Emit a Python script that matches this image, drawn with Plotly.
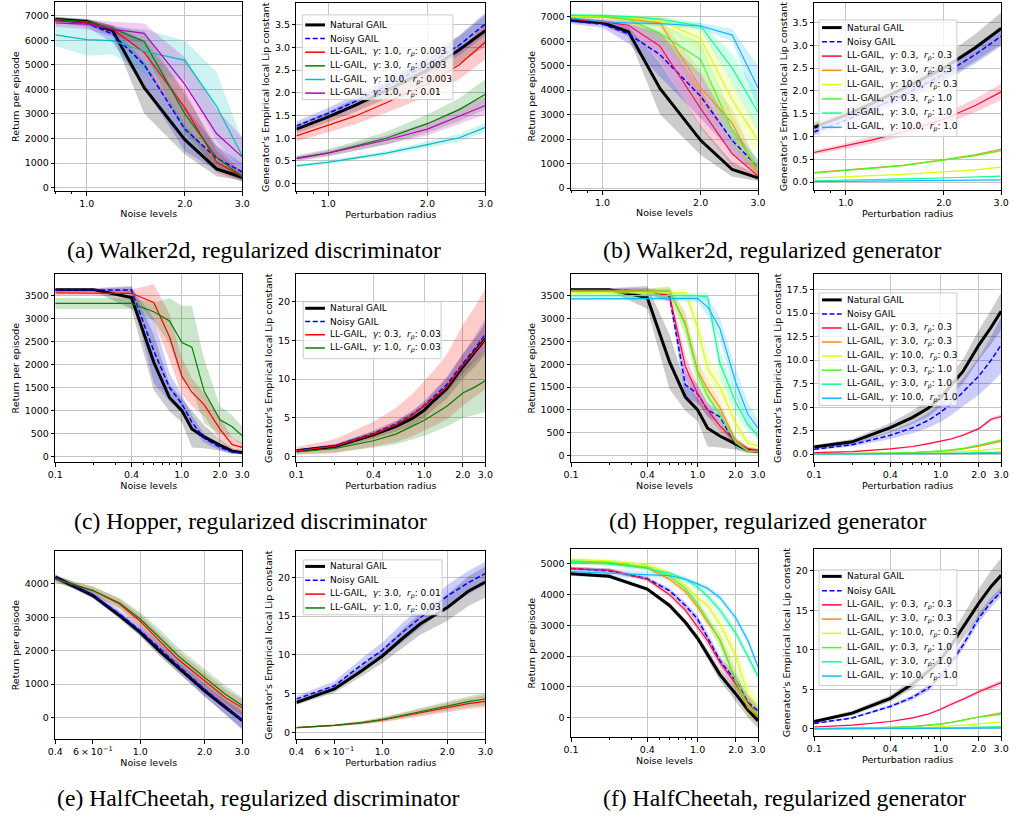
import math
import plotly.graph_objects as go

W, H = 1018, 818

# ------------------------------------------------------------------ data
WALKER_X = [0.8, 1.0, 1.2, 1.5, 2.0, 2.5, 3.0]
HOPPER_X = [0.1, 0.2, 0.4, 0.6, 0.8, 1.0, 1.2, 1.5, 2.0, 2.5, 3.0]
CHEETAH_DISC_X = [0.4, 0.5, 0.6, 0.8, 1.0, 1.25, 1.5, 2.0, 2.5, 3.0]
CHEETAH_GEN_X = [0.1, 0.2, 0.4, 0.6, 0.8, 1.0, 1.2, 1.5, 2.0, 2.5, 3.0]

LABEL_NATURAL = "Natural GAIL"
LABEL_NOISY = "Noisy GAIL"
LL_DISC_A = [("1.0", "0.003"), ("3.0", "0.003"), ("10.0", "0.003"), ("1.0", "0.01")]
LL_DISC_C = [("0.3", "0.03"), ("1.0", "0.03")]
LL_DISC_E = [("3.0", "0.01"), ("1.0", "0.03")]
LL_GEN = [("0.3", "0.3"), ("3.0", "0.3"), ("10.0", "0.3"), ("0.3", "1.0"), ("3.0", "1.0"), ("10.0", "1.0")]

# Walker2d returns
W_RET_NATURAL = [6850, 6750, 6390, 4070, 1950, 760, 420]
W_RET_NATURAL_SD = [90, 110, 200, 1050, 600, 300, 130]
A_RET_NOISY = [6820, 6700, 6250, 5000, 2380, 1200, 640]
A_RET_NOISY_SD = [120, 150, 350, 900, 900, 500, 350]
A_RET_LL1 = [6800, 6720, 6450, 5500, 3250, 1050, 430]
A_RET_LL1_SD = [100, 120, 150, 500, 700, 450, 200]
A_RET_LL2 = [6850, 6750, 6480, 5950, 3000, 1230, 450]
A_RET_LL2_SD = [80, 100, 120, 400, 800, 450, 200]
A_RET_LL3 = [6220, 6020, 5980, 5550, 5180, 3320, 1300]
A_RET_LL3_SD = [450, 650, 550, 900, 800, 1400, 650]
A_RET_LL4 = [6700, 6650, 6450, 6280, 4200, 2200, 1250]
A_RET_LL4_SD = [150, 200, 300, 400, 1100, 1000, 800]

# Walker2d Lipschitz
W_LIP_NATURAL = [1.2, 1.47, 1.72, 2.05, 2.5, 2.95, 3.37]
W_LIP_NATURAL_SD = [0.1, 0.12, 0.15, 0.18, 0.25, 0.3, 0.35]
A_LIP_NOISY = [1.27, 1.55, 1.8, 2.15, 2.62, 3.05, 3.52]
A_LIP_NOISY_SD = [0.1, 0.12, 0.14, 0.16, 0.2, 0.22, 0.25]
A_LIP_LL1 = [1.05, 1.28, 1.48, 1.78, 2.2, 2.62, 3.12]
A_LIP_LL1_SD = [0.12, 0.15, 0.18, 0.22, 0.28, 0.32, 0.38]
A_LIP_LL2 = [0.56, 0.68, 0.82, 1.0, 1.32, 1.63, 1.97]
A_LIP_LL2_SD = [0.06, 0.08, 0.1, 0.14, 0.2, 0.25, 0.33]
A_LIP_LL3 = [0.39, 0.47, 0.56, 0.67, 0.86, 1.01, 1.24]
A_LIP_LL3_SD = [0.03, 0.04, 0.04, 0.05, 0.07, 0.08, 0.1]
A_LIP_LL4 = [0.55, 0.67, 0.8, 0.96, 1.2, 1.48, 1.72]
A_LIP_LL4_SD = [0.05, 0.06, 0.08, 0.1, 0.14, 0.17, 0.2]

B_RET_NOISY = [6820, 6700, 6300, 5450, 3750, 1950, 850]
B_RET_NOISY_SD = [120, 150, 400, 900, 900, 500, 300]
B_RET_LL1 = [6900, 6800, 6650, 5800, 3250, 1400, 500]
B_RET_LL1_SD = [80, 100, 200, 600, 800, 500, 200]
B_RET_LL2 = [7000, 6980, 6900, 6750, 4100, 2650, 600]
B_RET_LL2_SD = [60, 70, 100, 200, 700, 600, 300]
B_RET_LL3 = [7000, 7000, 6950, 6850, 6100, 3600, 1950]
B_RET_LL3_SD = [60, 60, 80, 200, 500, 800, 600]
B_RET_LL4 = [7050, 7020, 6900, 6320, 5250, 2350, 800]
B_RET_LL4_SD = [60, 60, 100, 400, 700, 600, 300]
B_RET_LL5 = [7060, 7050, 7000, 6900, 6620, 4900, 3100]
B_RET_LL5_SD = [50, 50, 60, 100, 150, 600, 800]
B_RET_LL6 = [6950, 6800, 6750, 6720, 6620, 6250, 4100]
B_RET_LL6_SD = [50, 60, 60, 80, 120, 250, 900]

B_LIP_NOISY = [1.1, 1.35, 1.6, 1.9, 2.37, 2.8, 3.2]
B_LIP_NOISY_SD = [0.08, 0.1, 0.12, 0.14, 0.17, 0.2, 0.22]
B_LIP_LL1 = [0.65, 0.79, 0.92, 1.1, 1.38, 1.68, 1.98]
B_LIP_LL1_SD = [0.05, 0.06, 0.08, 0.1, 0.12, 0.15, 0.18]
B_LIP_LL2 = [0.21, 0.26, 0.31, 0.37, 0.49, 0.6, 0.72]
B_LIP_LL2_SD = [0.01, 0.01, 0.01, 0.015, 0.02, 0.02, 0.025]
B_LIP_LL3 = [0.09, 0.11, 0.14, 0.17, 0.22, 0.27, 0.33]
B_LIP_LL3_SD = [0.01, 0.01, 0.01, 0.01, 0.01, 0.015, 0.015]
B_LIP_LL4 = [0.2, 0.25, 0.3, 0.36, 0.48, 0.58, 0.69]
B_LIP_LL4_SD = [0.01, 0.01, 0.01, 0.015, 0.02, 0.02, 0.02]
B_LIP_LL5 = [0.03, 0.04, 0.05, 0.07, 0.09, 0.11, 0.13]
B_LIP_LL5_SD = [0.005, 0.005, 0.005, 0.01, 0.01, 0.01, 0.01]
B_LIP_LL6 = [0.01, 0.015, 0.02, 0.025, 0.035, 0.04, 0.05]
B_LIP_LL6_SD = [0.005, 0.005, 0.005, 0.005, 0.005, 0.005, 0.005]

# Hopper returns
H_RET_NATURAL = [3630, 3630, 3460, 2050, 1280, 1000, 600, 430, 250, 120, 90]
H_RET_NATURAL_SD = [30, 30, 250, 600, 300, 250, 400, 250, 120, 60, 40]
C_RET_NOISY = [3620, 3620, 3620, 2300, 1500, 1150, 750, 400, 200, 100, 80]
C_RET_NOISY_SD = [30, 30, 60, 700, 300, 200, 150, 100, 60, 40, 30]
C_RET_LL1 = [3560, 3560, 3550, 3350, 2600, 1750, 1400, 1130, 600, 260, 200]
C_RET_LL1_SD = [50, 50, 80, 400, 500, 400, 300, 250, 250, 150, 100]
C_RET_LL2 = [3330, 3330, 3330, 3150, 2950, 2480, 2380, 1420, 800, 650, 450]
C_RET_LL2_SD = [120, 120, 120, 200, 500, 800, 900, 700, 300, 250, 200]

H_LIP_NATURAL = [0.75, 1.3, 2.8, 3.9, 4.9, 6.0, 7.3, 8.8, 11.6, 13.5, 15.2]
H_LIP_NATURAL_SD = [0.2, 0.3, 0.5, 0.7, 0.9, 1.0, 1.1, 1.3, 1.6, 1.8, 2.0]
C_LIP_NOISY = [0.8, 1.4, 3.0, 4.2, 5.4, 6.6, 7.8, 9.3, 12.0, 14.0, 15.8]
C_LIP_NOISY_SD = [0.15, 0.2, 0.3, 0.4, 0.5, 0.6, 0.8, 1.0, 1.3, 1.6, 2.0]
C_LIP_LL1 = [0.75, 1.35, 2.9, 4.1, 5.3, 6.5, 7.6, 9.0, 11.8, 13.6, 15.2]
C_LIP_LL1_SD = [0.5, 0.9, 1.6, 2.2, 2.7, 3.2, 3.6, 4.2, 5.2, 5.8, 6.5]
C_LIP_LL2 = [0.6, 1.05, 2.05, 2.9, 3.9, 4.7, 5.5, 6.5, 8.2, 9.0, 9.8]
C_LIP_LL2_SD = [0.3, 0.5, 0.9, 1.3, 1.7, 2.0, 2.3, 2.6, 3.2, 3.6, 4.0]

D_RET_NOISY = [3620, 3620, 3600, 3480, 1550, 1350, 1000, 850, 250, 120, 100]
D_RET_NOISY_SD = [30, 30, 60, 100, 300, 200, 150, 150, 100, 50, 40]
D_RET_LL1 = [3620, 3620, 3600, 3500, 1950, 1350, 1000, 650, 300, 150, 120]
D_RET_LL1_SD = [30, 30, 60, 150, 250, 200, 150, 120, 80, 50, 40]
D_RET_LL2 = [3600, 3600, 3600, 3600, 2900, 1850, 1450, 1050, 320, 110, 100]
D_RET_LL2_SD = [30, 30, 50, 100, 250, 250, 200, 150, 100, 50, 40]
D_RET_LL3 = [3560, 3560, 3560, 3560, 3560, 2800, 1900, 1500, 700, 270, 220]
D_RET_LL3_SD = [30, 30, 40, 60, 100, 300, 300, 250, 200, 100, 60]
D_RET_LL4 = [3600, 3600, 3600, 3600, 2850, 1800, 1300, 900, 280, 100, 80]
D_RET_LL4_SD = [30, 30, 50, 100, 250, 250, 200, 150, 100, 50, 40]
D_RET_LL5 = [3500, 3500, 3500, 3500, 3500, 3500, 3470, 2020, 1160, 670, 430]
D_RET_LL5_SD = [30, 30, 30, 40, 50, 60, 100, 300, 250, 150, 100]
D_RET_LL6 = [3430, 3430, 3430, 3430, 3430, 3440, 3250, 2780, 1600, 900, 600]
D_RET_LL6_SD = [30, 30, 30, 40, 50, 80, 200, 250, 300, 250, 200]

D_LIP_NOISY = [0.5, 1.0, 2.0, 2.8, 3.6, 4.45, 5.3, 6.6, 8.3, 10.0, 11.6]
D_LIP_NOISY_SD = [0.1, 0.2, 0.4, 0.6, 0.8, 1.0, 1.2, 1.5, 2.0, 2.5, 3.0]
D_LIP_LL1 = [0.15, 0.25, 0.55, 0.8, 1.1, 1.35, 1.6, 2.0, 2.7, 3.7, 4.0]
D_LIP_LL1_SD = [0.03, 0.04, 0.06, 0.08, 0.1, 0.1, 0.12, 0.14, 0.15, 0.2, 0.2]
D_LIP_LL2 = [0.02, 0.04, 0.1, 0.15, 0.22, 0.3, 0.4, 0.55, 0.85, 1.1, 1.35]
D_LIP_LL2_SD = [0.01, 0.01, 0.02, 0.02, 0.03, 0.03, 0.04, 0.05, 0.06, 0.08, 0.1]
D_LIP_LL3 = [0.01, 0.02, 0.05, 0.08, 0.11, 0.15, 0.2, 0.27, 0.38, 0.5, 0.6]
D_LIP_LL3_SD = [0.005, 0.005, 0.01, 0.01, 0.02, 0.02, 0.02, 0.03, 0.03, 0.04, 0.05]
D_LIP_LL4 = [0.02, 0.04, 0.1, 0.15, 0.24, 0.33, 0.45, 0.6, 0.95, 1.25, 1.5]
D_LIP_LL4_SD = [0.01, 0.01, 0.02, 0.02, 0.03, 0.03, 0.04, 0.05, 0.06, 0.08, 0.1]
D_LIP_LL5 = [0.005, 0.01, 0.02, 0.03, 0.05, 0.06, 0.08, 0.1, 0.14, 0.17, 0.2]
D_LIP_LL5_SD = [0.005, 0.005, 0.005, 0.01, 0.01, 0.01, 0.01, 0.01, 0.02, 0.02, 0.02]
D_LIP_LL6 = [0.002, 0.005, 0.01, 0.015, 0.02, 0.025, 0.03, 0.035, 0.045, 0.05, 0.06]
D_LIP_LL6_SD = [0.005, 0.005, 0.005, 0.005, 0.005, 0.005, 0.005, 0.005, 0.01, 0.01, 0.01]

# HalfCheetah, regularized discriminator
E_RET_NATURAL = [4200, 3900, 3650, 3050, 2550, 1950, 1500, 800, 310, -90]
E_RET_NATURAL_SD = [80, 80, 80, 100, 120, 150, 150, 180, 200, 250]
E_RET_NOISY = [4200, 3920, 3670, 3100, 2600, 2030, 1560, 850, 330, -70]
E_RET_NOISY_SD = [80, 80, 100, 120, 150, 180, 200, 200, 250, 300]
E_RET_LL1 = [4150, 3950, 3800, 3400, 2880, 2250, 1750, 1100, 600, 290]
E_RET_LL1_SD = [100, 100, 120, 150, 200, 250, 250, 250, 250, 250]
E_RET_LL2 = [4150, 3950, 3800, 3430, 2950, 2350, 1850, 1200, 700, 360]
E_RET_LL2_SD = [100, 100, 120, 150, 200, 250, 250, 250, 250, 250]

E_LIP_NATURAL = [3.85, 4.8, 5.6, 7.9, 9.85, 12.2, 14.0, 16.1, 18.2, 19.4]
E_LIP_NATURAL_SD = [0.3, 0.4, 0.5, 0.7, 0.9, 1.2, 1.4, 1.7, 1.9, 2.0]
E_LIP_NOISY = [4.3, 5.2, 6.0, 8.7, 10.6, 13.0, 14.8, 17.6, 19.3, 20.5]
E_LIP_NOISY_SD = [0.4, 0.5, 0.6, 0.8, 1.0, 1.2, 1.3, 1.4, 1.5, 1.5]
E_LIP_LL1 = [0.6, 0.75, 0.9, 1.2, 1.6, 2.1, 2.5, 3.2, 3.7, 4.0]
E_LIP_LL1_SD = [0.1, 0.1, 0.15, 0.2, 0.3, 0.4, 0.5, 0.6, 0.7, 0.8]
E_LIP_LL2 = [0.6, 0.75, 0.9, 1.25, 1.65, 2.2, 2.65, 3.4, 3.95, 4.3]
E_LIP_LL2_SD = [0.1, 0.1, 0.15, 0.2, 0.3, 0.4, 0.5, 0.6, 0.7, 0.8]

# HalfCheetah, regularized generator
F_RET_NATURAL = [4680, 4600, 4180, 3650, 3100, 2580, 2050, 1400, 770, 250, -100]
F_RET_NATURAL_SD = [60, 60, 60, 80, 100, 120, 150, 200, 250, 250, 250]
F_RET_NOISY = [4850, 4780, 4520, 4130, 3650, 3200, 2600, 1850, 1200, 500, 220]
F_RET_NOISY_SD = [60, 60, 60, 80, 100, 120, 150, 150, 200, 200, 200]
F_RET_LL1 = [4850, 4800, 4500, 4000, 3500, 2950, 2500, 1800, 1100, 500, 50]
F_RET_LL1_SD = [60, 60, 60, 80, 100, 120, 150, 150, 200, 200, 200]
F_RET_LL2 = [5050, 5020, 4870, 4500, 4100, 3600, 3100, 2550, 1200, 300, 50]
F_RET_LL2_SD = [60, 60, 60, 80, 100, 120, 150, 200, 300, 250, 200]
F_RET_LL3 = [5150, 5100, 4980, 4700, 4300, 3900, 3650, 3050, 2000, 750, 400]
F_RET_LL3_SD = [60, 60, 60, 80, 100, 120, 150, 250, 400, 400, 300]
F_RET_LL4 = [5100, 5050, 4900, 4600, 4200, 3700, 3200, 2500, 1200, 400, 100]
F_RET_LL4_SD = [60, 60, 60, 80, 100, 120, 150, 250, 400, 350, 300]
F_RET_LL5 = [5050, 5000, 4850, 4700, 4500, 4250, 3950, 3500, 2750, 2000, 1350]
F_RET_LL5_SD = [60, 60, 60, 60, 80, 100, 120, 150, 150, 150, 150]
F_RET_LL6 = [4750, 4700, 4650, 4620, 4500, 4350, 4200, 3900, 3250, 2500, 1650]
F_RET_LL6_SD = [150, 150, 100, 80, 80, 80, 100, 100, 120, 150, 150]

F_LIP_NATURAL = [0.95, 2.0, 3.85, 5.7, 7.3, 8.8, 10.5, 12.9, 15.9, 18.0, 19.4]
F_LIP_NATURAL_SD = [0.2, 0.3, 0.4, 0.6, 0.8, 1.0, 1.2, 1.5, 1.8, 2.0, 2.2]
F_LIP_NOISY = [0.7, 1.4, 2.85, 4.0, 5.2, 6.7, 8.3, 10.6, 14.0, 16.0, 17.3]
F_LIP_NOISY_SD = [0.1, 0.15, 0.2, 0.3, 0.4, 0.5, 0.5, 0.5, 0.6, 0.6, 0.6]
F_LIP_LL1 = [0.25, 0.5, 0.95, 1.4, 1.9, 2.5, 3.1, 3.75, 4.7, 5.3, 5.85]
F_LIP_LL1_SD = [0.05, 0.05, 0.08, 0.1, 0.12, 0.15, 0.2, 0.2, 0.25, 0.3, 0.3]
F_LIP_LL2 = [0.05, 0.1, 0.2, 0.3, 0.45, 0.65, 0.85, 1.15, 1.6, 1.85, 2.05]
F_LIP_LL2_SD = [0.02, 0.02, 0.03, 0.04, 0.05, 0.05, 0.06, 0.07, 0.08, 0.1, 0.1]
F_LIP_LL3 = [0.02, 0.05, 0.1, 0.15, 0.22, 0.3, 0.4, 0.5, 0.65, 0.8, 0.9]
F_LIP_LL3_SD = [0.01, 0.01, 0.02, 0.02, 0.03, 0.03, 0.04, 0.04, 0.05, 0.05, 0.05]
F_LIP_LL4 = [0.05, 0.1, 0.2, 0.3, 0.45, 0.62, 0.8, 1.1, 1.5, 1.7, 1.85]
F_LIP_LL4_SD = [0.02, 0.02, 0.03, 0.04, 0.05, 0.05, 0.06, 0.07, 0.08, 0.1, 0.1]
F_LIP_LL5 = [0.01, 0.02, 0.04, 0.06, 0.08, 0.1, 0.13, 0.17, 0.22, 0.27, 0.3]
F_LIP_LL5_SD = [0.01, 0.01, 0.01, 0.01, 0.01, 0.02, 0.02, 0.02, 0.02, 0.03, 0.03]
F_LIP_LL6 = [0.005, 0.01, 0.02, 0.03, 0.04, 0.05, 0.07, 0.09, 0.11, 0.13, 0.15]
F_LIP_LL6_SD = [0.01, 0.01, 0.01, 0.01, 0.01, 0.01, 0.01, 0.01, 0.02, 0.02, 0.02]

CAPTIONS = ["(a) Walker2d, regularized discriminator", "(b) Walker2d, regularized generator",
            "(c) Hopper, regularized discriminator", "(d) Hopper, regularized generator",
            "(e) HalfCheetah, regularized discriminator", "(f) HalfCheetah, regularized generator"]

# ------------------------------------------------------------------ styles
FONT = "DejaVu Sans"
SERIF = "Liberation Serif"
GRID = "#c4c4c4"
BLACK, BLUE = "#000000", "#0000ff"
DISC_COLORS = ["#ff0000", "#008000", "#00bfbf", "#bf00bf"]
GEN_COLORS = ["#ff0a3a", "#ff8a10", "#d6ff10", "#44ff22", "#10ff90", "#10b8ff"]
TICK_SIZE = 9.5
TITLE_SIZE = 9.5
LEGEND_SIZE = 9


def ll_label(g, r):
    return ("LL-GAIL,\u00a0\u00a0<i>\u03b3</i>:\u00a0" + g +
            ",\u00a0\u00a0<i>r</i><sub><i>p</i></sub>:\u00a0" + r)


def series(means, sds, ll, colors):
    out = [(LABEL_NATURAL, BLACK, "natural", means[0], sds[0]),
           (LABEL_NOISY, BLUE, "noisy", means[1], sds[1])]
    for k, (g, r) in enumerate(ll):
        out.append((ll_label(g, r), colors[k], "ll", means[2 + k], sds[2 + k]))
    return out


TICKS_W = ([1.0, 2.0, 3.0], ["1.0", "2.0", "3.0"])
TICKS_H = ([0.1, 0.4, 1.0, 2.0, 3.0], ["0.1", "0.4", "1.0", "2.0", "3.0"])
TICKS_E = ([0.4, 0.6, 1.0, 2.0, 3.0], ["0.4", "6\u2009\u00d7\u200910<sup>\u22121</sup>", "1.0", "2.0", "3.0"])
MINOR_W = [0.8, 0.9]
MINOR_H = [0.2, 0.3, 0.5, 0.6, 0.7, 0.8, 0.9]

RET_T = "Return per episode"
LIP_T = "Generator's Empirical local Lip constant"
NOISE_T = "Noise levels"
PERT_T = "Perturbation radius"

PANELS = [
    dict(box=(48, 2, 238, 192), x=WALKER_X, xr=(0.8, 3.0), xt=TICKS_W, minor=MINOR_W, yr=(-150, 7555), dy=1000, fmt="d",
         xt_title=NOISE_T, yt_title=RET_T,
         s=series([W_RET_NATURAL, A_RET_NOISY, A_RET_LL1, A_RET_LL2, A_RET_LL3, A_RET_LL4],
                  [W_RET_NATURAL_SD, A_RET_NOISY_SD, A_RET_LL1_SD, A_RET_LL2_SD, A_RET_LL3_SD, A_RET_LL4_SD],
                  LL_DISC_A, DISC_COLORS)),
    dict(box=(293, 3, 485, 192), x=WALKER_X, xr=(0.8, 3.0), xt=TICKS_W, minor=MINOR_W, yr=(-0.17, 3.98), dy=0.5, fmt=".1f",
         xt_title=PERT_T, yt_title=LIP_T,
         legend=dict(box=(299, 15, 452, 100), y0=25, step=13.7, lx=(302, 322), tx=326),
         s=series([W_LIP_NATURAL, A_LIP_NOISY, A_LIP_LL1, A_LIP_LL2, A_LIP_LL3, A_LIP_LL4],
                  [W_LIP_NATURAL_SD, A_LIP_NOISY_SD, A_LIP_LL1_SD, A_LIP_LL2_SD, A_LIP_LL3_SD, A_LIP_LL4_SD],
                  LL_DISC_A, DISC_COLORS)),
    dict(box=(572, 2, 762, 191), x=WALKER_X, xr=(0.8, 3.0), xt=TICKS_W, minor=MINOR_W, yr=(-90, 7600), dy=1000, fmt="d",
         xt_title=NOISE_T, yt_title=RET_T,
         s=series([W_RET_NATURAL, B_RET_NOISY, B_RET_LL1, B_RET_LL2, B_RET_LL3, B_RET_LL4, B_RET_LL5, B_RET_LL6],
                  [W_RET_NATURAL_SD, B_RET_NOISY_SD, B_RET_LL1_SD, B_RET_LL2_SD, B_RET_LL3_SD, B_RET_LL4_SD,
                   B_RET_LL5_SD, B_RET_LL6_SD], LL_GEN, GEN_COLORS)),
    dict(box=(819, 3, 1009, 191), x=WALKER_X, xr=(0.8, 3.0), xt=TICKS_W, minor=MINOR_W, yr=(-0.18, 3.93), dy=0.5, fmt=".1f",
         xt_title=PERT_T, yt_title=LIP_T,
         legend=dict(box=(824, 20, 964, 137), y0=27.7, step=14.3, lx=(827, 847), tx=851),
         s=series([W_LIP_NATURAL, B_LIP_NOISY, B_LIP_LL1, B_LIP_LL2, B_LIP_LL3, B_LIP_LL4, B_LIP_LL5, B_LIP_LL6],
                  [W_LIP_NATURAL_SD, B_LIP_NOISY_SD, B_LIP_LL1_SD, B_LIP_LL2_SD, B_LIP_LL3_SD, B_LIP_LL4_SD,
                   B_LIP_LL5_SD, B_LIP_LL6_SD], LL_GEN, GEN_COLORS)),
    dict(box=(48, 275, 238, 464), x=HOPPER_X, xr=(0.1, 3.0), xt=TICKS_H, minor=MINOR_H, yr=(-123, 3970), dy=500, fmt="d",
         xt_title=NOISE_T, yt_title=RET_T,
         s=series([H_RET_NATURAL, C_RET_NOISY, C_RET_LL1, C_RET_LL2],
                  [H_RET_NATURAL_SD, C_RET_NOISY_SD, C_RET_LL1_SD, C_RET_LL2_SD], LL_DISC_C, DISC_COLORS)),
    dict(box=(293, 275, 485, 464), x=HOPPER_X, xr=(0.1, 3.0), xt=TICKS_H, minor=MINOR_H, yr=(-0.73, 23.56), dy=5, fmt="d",
         xt_title=PERT_T, yt_title=LIP_T,
         legend=dict(box=(300, 303, 440, 360), y0=309.4, step=13.3, lx=(302, 322), tx=326),
         s=series([H_LIP_NATURAL, C_LIP_NOISY, C_LIP_LL1, C_LIP_LL2],
                  [H_LIP_NATURAL_SD, C_LIP_NOISY_SD, C_LIP_LL1_SD, C_LIP_LL2_SD], LL_DISC_C, DISC_COLORS)),
    dict(box=(572, 275, 762, 464), x=HOPPER_X, xr=(0.1, 3.0), xt=TICKS_H, minor=MINOR_H, yr=(-146, 3973), dy=500, fmt="d",
         xt_title=NOISE_T, yt_title=RET_T,
         s=series([H_RET_NATURAL, D_RET_NOISY, D_RET_LL1, D_RET_LL2, D_RET_LL3, D_RET_LL4, D_RET_LL5, D_RET_LL6],
                  [H_RET_NATURAL_SD, D_RET_NOISY_SD, D_RET_LL1_SD, D_RET_LL2_SD, D_RET_LL3_SD, D_RET_LL4_SD,
                   D_RET_LL5_SD, D_RET_LL6_SD], LL_GEN, GEN_COLORS)),
    dict(box=(819, 275, 1009, 464), x=HOPPER_X, xr=(0.1, 3.0), xt=TICKS_H, minor=MINOR_H, yr=(-0.88, 19.17), dy=2.5, fmt=".1f",
         xt_title=PERT_T, yt_title=LIP_T,
         legend=dict(box=(824, 294, 964, 407), y0=301, step=14.1, lx=(827, 847), tx=851),
         s=series([H_LIP_NATURAL, D_LIP_NOISY, D_LIP_LL1, D_LIP_LL2, D_LIP_LL3, D_LIP_LL4, D_LIP_LL5, D_LIP_LL6],
                  [H_LIP_NATURAL_SD, D_LIP_NOISY_SD, D_LIP_LL1_SD, D_LIP_LL2_SD, D_LIP_LL3_SD, D_LIP_LL4_SD,
                   D_LIP_LL5_SD, D_LIP_LL6_SD], LL_GEN, GEN_COLORS)),
    dict(box=(48, 553, 238, 742), x=CHEETAH_DISC_X, xr=(0.4, 3.0), xt=TICKS_E, minor=None, yr=(-650, 4985), dy=1000, fmt="d",
         xt_title=NOISE_T, yt_title=RET_T,
         s=series([E_RET_NATURAL, E_RET_NOISY, E_RET_LL1, E_RET_LL2],
                  [E_RET_NATURAL_SD, E_RET_NOISY_SD, E_RET_LL1_SD, E_RET_LL2_SD], LL_DISC_E, DISC_COLORS)),
    dict(box=(293, 553, 485, 742), x=CHEETAH_DISC_X, xr=(0.4, 3.0), xt=TICKS_E, minor=None, yr=(-0.9, 23.4), dy=5, fmt="d",
         xt_title=PERT_T, yt_title=LIP_T,
         legend=dict(box=(300, 562, 441, 617), y0=568.5, step=13.9, lx=(302, 322), tx=326),
         s=series([E_LIP_NATURAL, E_LIP_NOISY, E_LIP_LL1, E_LIP_LL2],
                  [E_LIP_NATURAL_SD, E_LIP_NOISY_SD, E_LIP_LL1_SD, E_LIP_LL2_SD], LL_DISC_E, DISC_COLORS)),
    dict(box=(572, 551, 762, 740), x=CHEETAH_GEN_X, xr=(0.1, 3.0), xt=TICKS_H, minor=MINOR_H, yr=(-640, 5486), dy=1000, fmt="d",
         xt_title=NOISE_T, yt_title=RET_T,
         s=series([F_RET_NATURAL, F_RET_NOISY, F_RET_LL1, F_RET_LL2, F_RET_LL3, F_RET_LL4, F_RET_LL5, F_RET_LL6],
                  [F_RET_NATURAL_SD, F_RET_NOISY_SD, F_RET_LL1_SD, F_RET_LL2_SD, F_RET_LL3_SD, F_RET_LL4_SD,
                   F_RET_LL5_SD, F_RET_LL6_SD], LL_GEN, GEN_COLORS)),
    dict(box=(819, 551, 1009, 739), x=CHEETAH_GEN_X, xr=(0.1, 3.0), xt=TICKS_H, minor=MINOR_H, yr=(-0.92, 22.73), dy=5, fmt="d",
         xt_title=PERT_T, yt_title=LIP_T,
         legend=dict(box=(824, 572, 964, 688), y0=578.5, step=14.3, lx=(827, 847), tx=851),
         s=series([F_LIP_NATURAL, F_LIP_NOISY, F_LIP_LL1, F_LIP_LL2, F_LIP_LL3, F_LIP_LL4, F_LIP_LL5, F_LIP_LL6],
                  [F_LIP_NATURAL_SD, F_LIP_NOISY_SD, F_LIP_LL1_SD, F_LIP_LL2_SD, F_LIP_LL3_SD, F_LIP_LL4_SD,
                   F_LIP_LL5_SD, F_LIP_LL6_SD], LL_GEN, GEN_COLORS)),
]

CAPTION_POS = [(250, 251), (776, 251), (246, 523), (772, 523), (254, 801), (789, 801)]


def px_x(v):
    return v / W


def px_y(v):
    return 1 - v / H


def rgba(hexc, a):
    h = hexc.lstrip("#")
    return "rgba(%d,%d,%d,%s)" % (int(h[0:2], 16), int(h[2:4], 16), int(h[4:6], 16), a)


def line_style(kind, color):
    if kind == "natural":
        return dict(color=color, width=3)
    if kind == "noisy":
        return dict(color=color, width=1.5, dash="5px,2.5px")
    return dict(color=color, width=1.2)


fig = go.Figure()
shapes, annotations = [], []
layout = {}
tickfont = dict(family=FONT, size=TICK_SIZE, color="black")
titlefont = dict(family=FONT, size=TITLE_SIZE, color="black")

for i, p in enumerate(PANELS, start=1):
    xa = "x" if i == 1 else "x%d" % i
    ya = "y" if i == 1 else "y%d" % i
    X = p["x"]
    for name, color, kind, m, sd in p["s"]:
        hi = [a + b for a, b in zip(m, sd)]
        lo = [a - b for a, b in zip(m, sd)]
        fig.add_trace(go.Scatter(x=X + X[::-1], y=hi + lo[::-1], mode="lines", fill="toself",
                                 fillcolor=rgba(color, 0.2), line=dict(width=0),
                                 hoverinfo="skip", showlegend=False, xaxis=xa, yaxis=ya))
    for name, color, kind, m, sd in p["s"]:
        fig.add_trace(go.Scatter(x=X, y=m, mode="lines", name=name, line=line_style(kind, color),
                                 showlegend=False, xaxis=xa, yaxis=ya))

    l, t, r, b = p["box"]
    is_e = p["minor"] is None
    xaxis = dict(domain=[px_x(l), px_x(r)], anchor=ya, type="log",
                 range=[math.log10(p["xr"][0]), math.log10(p["xr"][1])],
                 tickmode="array", tickvals=p["xt"][0], ticktext=p["xt"][1],
                 showgrid=not is_e, gridcolor=GRID, gridwidth=1.1,
                 showline=True, linecolor="black", linewidth=1, mirror=True,
                 ticks="outside", ticklen=3.5, tickwidth=0.8, tickcolor="black",
                 tickfont=tickfont, zeroline=False,
                 title=dict(text=p["xt_title"], font=titlefont, standoff=2))
    if is_e:
        xaxis["minor"] = dict(tickmode="array", tickvals=[1.0, 2.0], ticks="", showgrid=True,
                              gridcolor=GRID, gridwidth=1.1)
    else:
        xaxis["minor"] = dict(tickmode="array", tickvals=p["minor"], ticks="outside", ticklen=2,
                              tickwidth=0.6, tickcolor="black", showgrid=False)
    layout["xaxis" if i == 1 else "xaxis%d" % i] = xaxis
    layout["yaxis" if i == 1 else "yaxis%d" % i] = dict(
        domain=[px_y(b), px_y(t)], anchor=xa, range=list(p["yr"]),
        tickmode="linear", tick0=0, dtick=p["dy"], tickformat=p["fmt"],
        showgrid=True, gridcolor=GRID, gridwidth=1.1, zeroline=False,
        showline=True, linecolor="black", linewidth=1, mirror=True,
        ticks="outside", ticklen=3.5, tickwidth=0.8, tickcolor="black", tickfont=tickfont,
        title=dict(text=p["yt_title"], font=titlefont, standoff=3))

    lg = p.get("legend")
    if lg:
        bx0, by0, bx1, by1 = lg["box"]
        shapes.append(dict(type="rect", xref="paper", yref="paper", layer="above",
                           x0=px_x(bx0), x1=px_x(bx1), y0=px_y(by1), y1=px_y(by0),
                           fillcolor="rgba(255,255,255,0.8)", line=dict(color="#cccccc", width=1)))
        for k, (name, color, kind, m, sd) in enumerate(p["s"]):
            yy = lg["y0"] + k * lg["step"]
            shapes.append(dict(type="line", xref="paper", yref="paper", layer="above",
                               x0=px_x(lg["lx"][0]), x1=px_x(lg["lx"][1]), y0=px_y(yy), y1=px_y(yy),
                               line=line_style(kind, color) if kind != "ll" else dict(color=color, width=1.5)))
            annotations.append(dict(text=name, xref="paper", yref="paper", x=px_x(lg["tx"]), y=px_y(yy),
                                    xanchor="left", yanchor="middle", showarrow=False, borderpad=0,
                                    font=dict(family=FONT, size=LEGEND_SIZE, color="black")))

for cap, (cx, cy) in zip(CAPTIONS, CAPTION_POS):
    annotations.append(dict(text=cap, xref="paper", yref="paper", x=px_x(cx), y=px_y(cy),
                            xanchor="center", yanchor="middle", showarrow=False,
                            font=dict(family=SERIF, size=23.7, color="black")))

fig.update_layout(width=W, height=H, margin=dict(l=0, r=0, t=0, b=0),
                  paper_bgcolor="white", plot_bgcolor="white", showlegend=False,
                  shapes=shapes, annotations=annotations, **layout)
# the page's default 8px body margin would shift the figure; remove it after drawing
fig.write_html("out.html", config={"displayModeBar": False},
               post_script="document.body.style.margin='0px';")
